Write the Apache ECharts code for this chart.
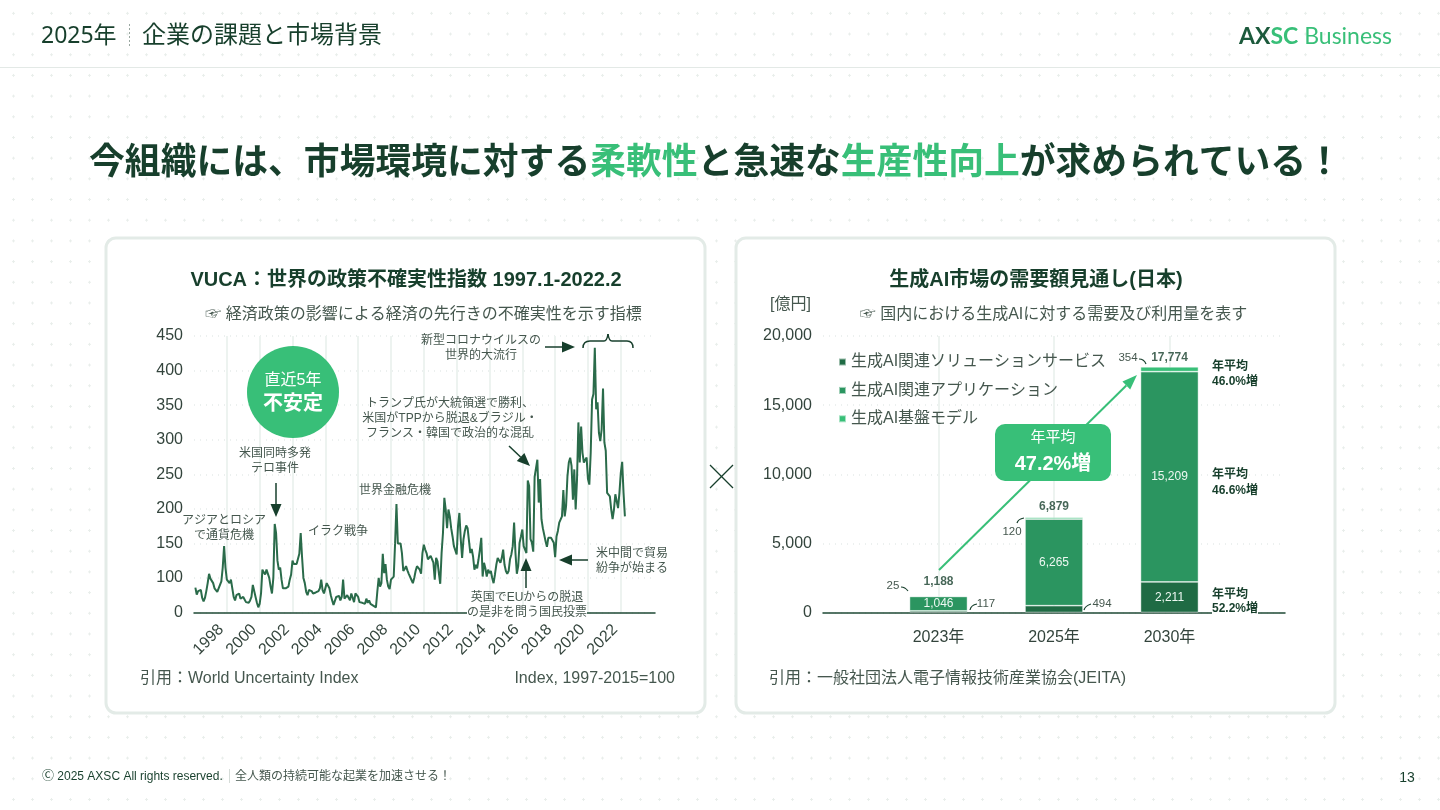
<!DOCTYPE html>
<html><head><meta charset="utf-8">
<script src="https://cdn.jsdelivr.net/npm/echarts@6/dist/echarts.min.js"></script>
<style>
html,body{margin:0;padding:0;width:1440px;height:810px;overflow:hidden;background-color:#fff;
background-image:radial-gradient(circle,#e9eeeb 1.1px,transparent 1.4px);background-size:19px 20.7px;background-position:4px 3px}
#c{width:1440px;height:810px}
</style></head><body><div id="c"></div>
<script>
// ---- VUCA line chart: monthly index values from Jan 1997, as read against the printed tick labels
const wuiValues = [
72,52,62,58,65,42,32,42,62,85,106,98,
95,85,70,68,60,70,72,90,115,146,115,95,
95,85,95,70,45,35,50,55,55,40,42,45,
40,30,35,28,35,45,80,80,45,28,15,25,
55,112,108,105,112,113,100,75,55,100,178,165,
125,112,115,95,70,68,70,65,75,95,105,125,
120,120,120,122,135,165,130,100,85,60,50,65,
70,62,55,55,58,60,62,70,95,65,55,60,
85,85,70,50,35,22,25,45,48,48,35,45,
95,40,45,50,45,35,55,60,30,55,55,45,
30,28,28,30,25,40,28,35,25,25,20,18,
15,60,100,75,85,135,107,120,95,75,68,95,
100,102,150,207,150,152,150,136,110,113,117,111,
106,105,94,85,100,110,117,116,112,106,136,148,
141,136,127,127,132,134,122,95,129,124,107,83,
136,165,216,199,172,199,189,172,160,146,145,134,
175,194,156,129,156,168,176,172,170,136,142,131,
112,119,114,127,141,158,102,122,114,102,112,107,
110,100,85,105,119,129,127,122,129,141,119,110,
106,110,127,134,146,180,136,106,117,151,160,170,
146,141,136,241,233,156,151,138,246,247,271,209,
243,185,172,170,153,145,158,160,158,156,151,130,
160,168,180,182,189,227,189,204,247,267,274,262,
213,257,199,243,325,267,319,281,267,271,274,243,
235,281,358,366,433,344,354,310,298,315,374,296,
284,223,221,218,199,185,199,221,211,201,223,252,
268,223,189];
const wuiYearLabels = [1998,2000,2002,2004,2006,2008,2010,2012,2014,2016,2018,2020,2022];
const wuiYTickLabels = [0,100,150,200,250,300,350,400,450];   // the source axis has no 50 tick

// ---- Generative AI demand bars (100M yen)
const aiCategories = ['', '2023年', '2025年', '2030年', ''];
const solutionValues = [null, 117, 494, 2211, null];
const applicationValues = [null, 1046, 6265, 15209, null];
const foundationValues = [null, 25, 120, 354, null];
const totalValues = [null, 1188, 6879, 17774, null];
const aiSeriesNames = ['生成AI関連ソリューションサービス','生成AI関連アプリケーション','生成AI基盤モデル'];
const growthLabels = ['46.0%増','46.6%増','52.2%増'];
const cagrLabel = '47.2%増';

// The printed axis goes 0, 100, 150, ... at equal spacing: map a read value onto that spacing.
const wuiToAxis = v => v >= 100 ? v - 50 : v / 2;

const wuiCategories = ['1996-12'];
for (let y = 1997; y <= 2024; y++) for (let m = 1; m <= 12; m++) wuiCategories.push(y + '-' + String(m).padStart(2,'0'));
wuiCategories.length = 338;
const isWuiTick = (i, c) => c.endsWith('-12') && wuiYearLabels.includes(+c.slice(0,4));

const JP = '"Liberation Sans","Noto Sans CJK JP","DejaVu Sans",sans-serif';
const NS = '"Noto Sans","Noto Sans CJK JP",sans-serif';
const DARK='#173f2c', TXT='#45574e', G1='#1f6b44', G2='#2b9560', G3='#38bf78';

const T=(x,y,text,size,o={})=>({type:'text',x,y:o.f?y:y+1.2,silent:true,z:o.z||20,style:Object.assign({text,
  font:(o.w||'normal')+' '+size+'px '+(o.f||JP),fill:o.c||TXT,align:o.a||'center',verticalAlign:'middle',
  lineHeight:o.lh||Math.round(size*1.2)},o.s||{})});
const L=(pts,c,w=1.5,o={})=>({type:'polyline',silent:true,z:o.z||15,shape:{points:pts},style:Object.assign({stroke:c,lineWidth:w,fill:null},o.s||{})});
const P=(pts,c)=>({type:'polygon',silent:true,z:15,shape:{points:pts},style:{fill:c}});
const B=(x1,y1,cx,cy,x2,y2,c=DARK,w=1.2)=>({type:'bezierCurve',silent:true,z:15,shape:{x1,y1,x2,y2,cpx1:cx,cpy1:cy},style:{stroke:c,lineWidth:w,fill:null}});
const A=(x1,y1,x2,y2,c=DARK,len=13,hw=5.5,w=1.5)=>{const a=Math.atan2(y2-y1,x2-x1),bx=x2-len*Math.cos(a),by=y2-len*Math.sin(a),nx=-Math.sin(a)*hw,ny=Math.cos(a)*hw;
  return [L([[x1,y1],[bx,by]],c,w),P([[x2,y2],[bx+nx,by+ny],[bx-nx,by-ny]],c)];};
const card=(x,w)=>({type:'rect',silent:true,z:-10,shape:{x,y:238,width:w,height:475,r:10},style:{fill:'#fff',stroke:'#e3ebe7',lineWidth:3}});

const graphics=[
 T(41,36,'2025年',23,{a:'left',f:NS,c:DARK}),
 L([[129.5,24],[129.5,46]],'#9aa8a1',1,{s:{lineDash:[2,2]}}),
 T(142,36,'企業の課題と市場背景',24,{a:'left',f:NS,c:DARK}),
 {type:'rect',silent:true,shape:{x:0,y:67,width:1440,height:1},style:{fill:'#e3e9e6'}},
 {type:'text',x:1392,y:37,silent:true,style:{text:'{a|AX}{b|SC}{c| Business}',align:'right',verticalAlign:'middle',rich:{
   a:{font:'bold 23px "Lato"',fill:'#1c5a3c'},b:{font:'bold 23px "Lato"',fill:G3},c:{font:'23px "Lato"',fill:G3}}}},
 {type:'text',x:715.5,y:160,silent:true,style:{text:'{d|今組織には、市場環境に対する}{g|柔軟性}{d|と急速な}{g|生産性向上}{d|が求められている！}',align:'center',verticalAlign:'middle',rich:{
   d:{font:'bold 35.8px "Noto Sans CJK JP"',fill:DARK},g:{font:'bold 35.8px "Noto Sans CJK JP"',fill:G3}}}},
 card(106,599),card(736,599),
 L([[710,465],[733,488]],DARK,1.2),L([[733,465],[710,488]],DARK,1.2),

 T(406,279,'VUCA：世界の政策不確実性指数 1997.1-2022.2',20,{w:'bold',c:DARK}),
 T(423.5,313,'☞ 経済政策の影響による経済の先行きの不確実性を示す指標',16),
 T(1036,279,'生成AI市場の需要額見通し(日本)',20,{w:'bold',c:DARK}),
 T(1053.5,313,'☞ 国内における生成AIに対する需要及び利用量を表す',16),
 T(790.5,303,'[億円]',16),
 T(140,677,'引用：World Uncertainty Index',16,{a:'left'}),
 T(675,677,'Index, 1997-2015=100',16,{a:'right'}),
 T(769,677,'引用：一般社団法人電子情報技術産業協会(JEITA)',16,{a:'left'}),

 {type:'circle',silent:true,z:12,shape:{cx:293,cy:392,r:46},style:{fill:G3}},
 T(293,379,'直近5年',16,{c:'#fff',z:21}),
 T(293,403,'不安定',20,{c:'#fff',w:'bold',z:21}),
 T(275,460,'米国同時多発\nテロ事件',12,{lh:15}),
 ...A(276,483,276,517),
 T(224,527,'アジアとロシア\nで通貨危機',12,{lh:15}),
 T(338,530,'イラク戦争',12),
 T(395,489,'世界金融危機',12),
 T(450,417,'トランプ氏が大統領選で勝利、\n米国がTPPから脱退&ブラジル・\nフランス・韓国で政治的な混乱',12,{lh:15}),
 ...A(509,446,530,466),
 T(481,347,'新型コロナウイルスの\n世界的大流行',12,{lh:15}),
 ...A(545,347,575,347),
 B(583,348,583,341,590,341,DARK,1.5),L([[590,341],[604,341]],DARK,1.5),B(604,341,607,341,608,334,DARK,1.5),
 B(608,334,609,341,612,341,DARK,1.5),L([[612,341],[627,341]],DARK,1.5),B(627,341,633,341,633,348,DARK,1.5),
 T(632,560,'米中間で貿易\n紛争が始まる',12,{lh:15}),
 ...A(588,560,559,560),
 ...A(526,588,526,558),
 {type:'rect',silent:true,z:18,shape:{x:467,y:606,width:120,height:12},style:{fill:'#fff'}},
 T(527,604,'英国でEUからの脱退\nの是非を問う国民投票',12,{lh:15}),

 ...A(939,570,1137,375,G3,15,5.5,2),
 {type:'rect',silent:true,z:16,shape:{x:995,y:424,width:116,height:57,r:10},style:{fill:G3}},
 T(1053,437,'年平均',15,{c:'#fff',z:21}),
 T(1053,463,cagrLabel,20,{c:'#fff',w:'bold',z:21}),

 T(893,585,String(foundationValues[1]),11.5),B(901,587,905,587,908,591),
 T(986,603,String(solutionValues[1]),11.5),B(970,610,971,605,977,604),
 T(1012,531,String(foundationValues[2]),11.5),B(1017,523,1018,519,1024,518),
 T(1102,603,String(solutionValues[2]),11.5),B(1084,610,1085,606,1091,604),
 T(1128,357,String(foundationValues[3]),11.5),B(1139,359,1144,359,1146,364),

 T(1212,365,'年平均',12,{a:'left',w:'bold',c:DARK}),
 T(1212,380,growthLabels[0],12,{a:'left',w:'bold',c:DARK}),
 T(1212,473,'年平均',12,{a:'left',w:'bold',c:DARK}),
 T(1212,489,growthLabels[1],12,{a:'left',w:'bold',c:DARK}),
 T(1212,593,'年平均',12,{a:'left',w:'bold',c:DARK}),
 {type:'rect',silent:true,z:18,shape:{x:1212,y:606,width:46,height:11},style:{fill:'#fff'}},
 T(1212,607,growthLabels[2],12,{a:'left',w:'bold',c:DARK}),

 T(42,775,'Ⓒ 2025 AXSC All rights reserved.',12,{a:'left',c:DARK}),
 L([[229.5,769],[229.5,783]],'#d5dcd8',1),
 T(235,775,'全人類の持続可能な起業を加速させる！',12,{a:'left'}),
 T(1407,777,'13',14,{c:DARK})
];

const axisTxt={color:'#33443c',fontSize:16,fontFamily:JP};
const split={show:true,lineStyle:{color:'#edf3f0',width:2}};
const hSplit={show:true,lineStyle:{color:'#e6ecea',width:1.5,type:[1,5]}};
const barSeries=(name,data,color)=>({name,type:'bar',stack:'ai',xAxisIndex:1,yAxisIndex:1,data,barWidth:58,z:5,
  itemStyle:{color,borderColor:'rgba(255,255,255,.55)',borderWidth:0.8},
  label:{show:true,position:'inside',color:'#eef8f2',fontSize:12,fontFamily:JP,
    formatter:p=>p.value>1000?p.value.toLocaleString('en-US'):''}});
const totalOffsets=[0,1,4.5,6,0];

const chart=echarts.init(document.getElementById('c'),null,{renderer:'canvas'});
chart.setOption({
 animation:false,backgroundColor:'transparent',
 textStyle:{fontFamily:JP},
 grid:[{left:194,width:461,top:336,height:276.5},{left:823,width:462,top:336,height:276.5}],
 legend:{data:aiSeriesNames,orient:'vertical',left:833,top:349,itemWidth:7,itemHeight:7,itemGap:12.4,icon:'rect',
   selectedMode:false,textStyle:{color:TXT,fontSize:16,fontFamily:JP,padding:[0,0,0,0]}},
 xAxis:[
  {type:'category',gridIndex:0,data:wuiCategories,boundaryGap:false,
   axisLine:{lineStyle:{color:'#1f4a36',width:1.5}},axisTick:{show:false},
   splitLine:Object.assign({},split,{interval:isWuiTick}),
   axisLabel:Object.assign({},axisTxt,{rotate:45,interval:isWuiTick,margin:9,padding:[0,8,0,0],formatter:v=>v.slice(0,4)})},
  {type:'category',gridIndex:1,data:aiCategories,boundaryGap:false,
   axisLine:{lineStyle:{color:'#1f4a36',width:1.5}},axisTick:{show:false},
   splitLine:Object.assign({},split,{interval:(i,c)=>c!==''}),
   axisLabel:Object.assign({},axisTxt,{margin:17,interval:0})}
 ],
 yAxis:[
  {type:'value',gridIndex:0,min:0,max:400,interval:50,axisLine:{show:false},axisTick:{show:false},
   splitLine:hSplit,axisLabel:Object.assign({},axisTxt,{margin:11,padding:[2,0,0,0],formatter:v=>String(wuiYTickLabels[v/50])})},
  {type:'value',gridIndex:1,min:0,max:20000,interval:5000,axisLine:{show:false},axisTick:{show:false},
   splitLine:hSplit,axisLabel:Object.assign({},axisTxt,{margin:11,padding:[2,0,0,0],formatter:v=>v.toLocaleString('en-US')})}
 ],
 series:[
  {name:'WUI',type:'line',xAxisIndex:0,yAxisIndex:0,data:[null].concat(wuiValues.map(wuiToAxis)),
   showSymbol:false,symbol:'none',connectNulls:false,lineStyle:{color:'#2a6b4a',width:2},z:3},
  barSeries(aiSeriesNames[0],solutionValues,G1),
  barSeries(aiSeriesNames[1],applicationValues,G2),
  barSeries(aiSeriesNames[2],foundationValues,G3),
  {name:'合計',type:'scatter',xAxisIndex:1,yAxisIndex:1,symbolSize:1,z:6,itemStyle:{color:'rgba(0,0,0,0)'},
   data:totalValues.map((v,i)=>v==null?null:{value:v,label:{offset:[0,totalOffsets[i]]}}),
   label:{show:true,position:'top',distance:9,color:DARK,fontSize:12,fontWeight:'bold',fontFamily:JP,
     formatter:p=>p.value.toLocaleString('en-US')}}
 ],
 graphic:{elements:graphics}
});
</script></body></html>
